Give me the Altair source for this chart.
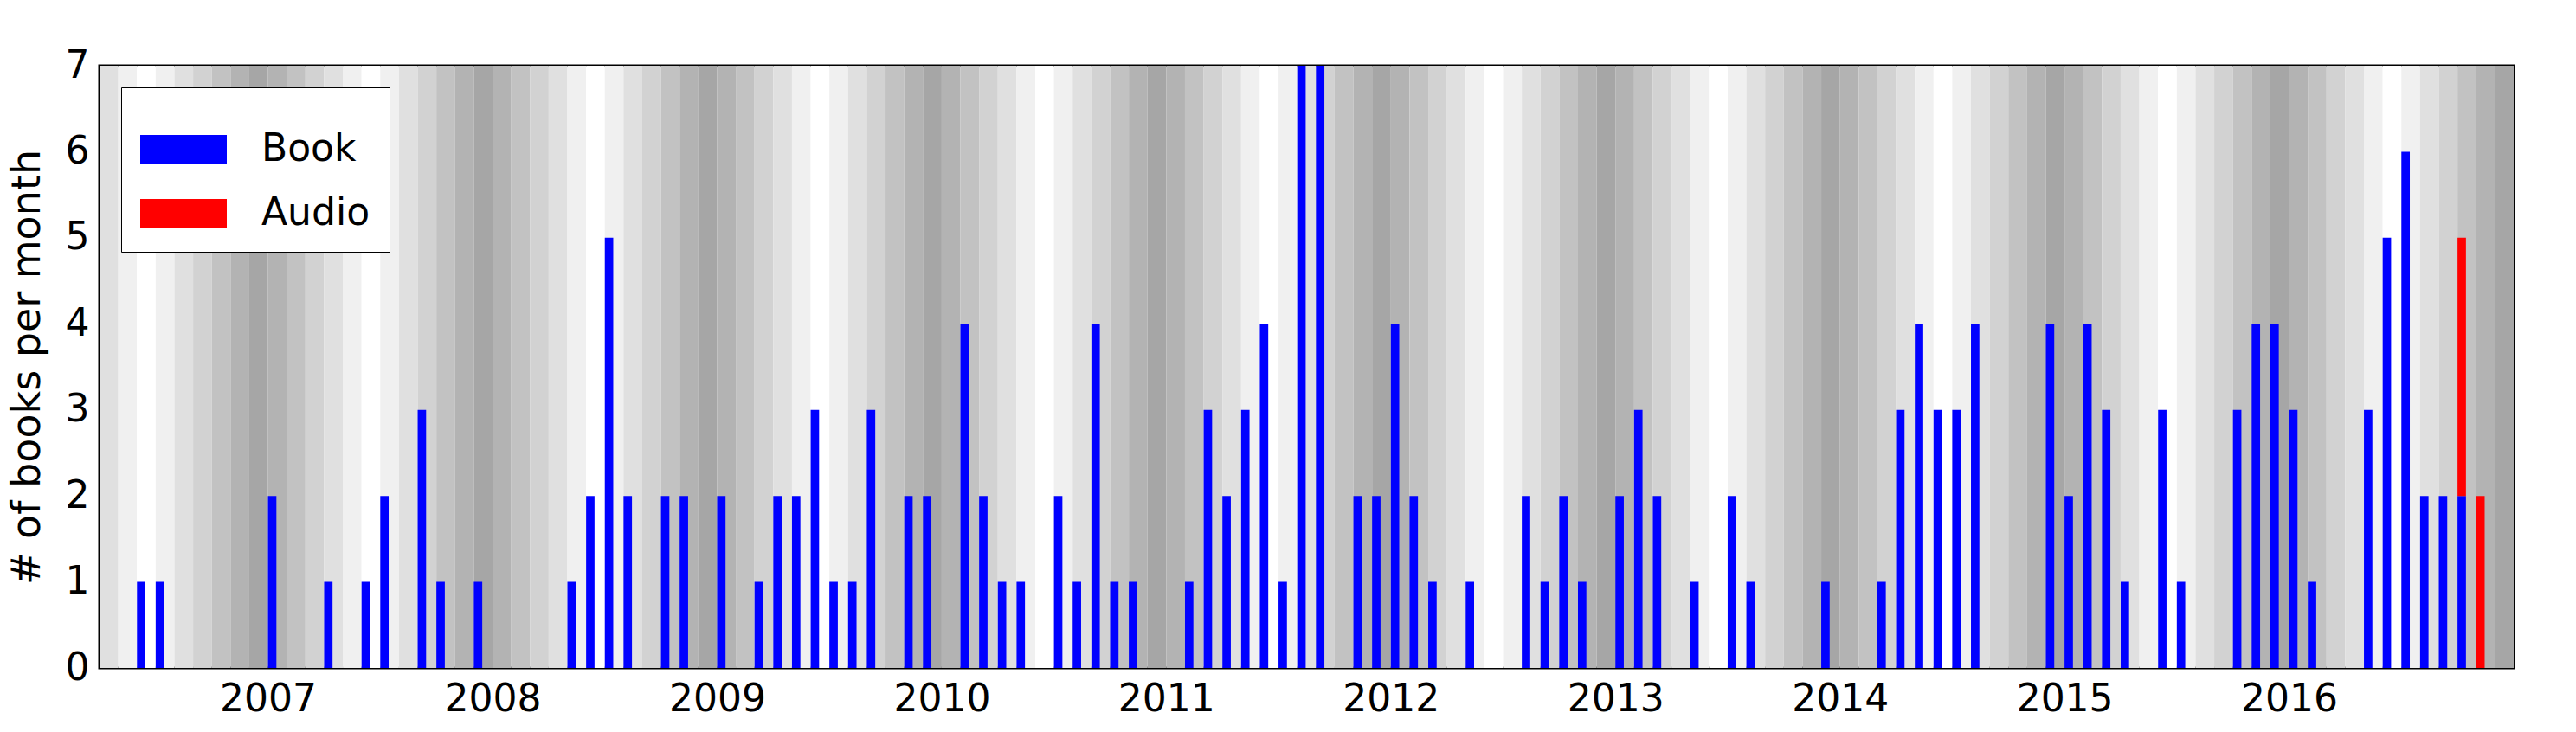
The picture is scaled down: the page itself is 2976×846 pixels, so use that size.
import altair as alt
import pandas as pd

# monthly counts, April 2006 .. December 2016 (129 months)
START_YEAR, START_MONTH, N_MONTHS = 2006, 4, 129

# (month index from Apr 2006) -> count
BOOK = {
    2: 1, 3: 1, 9: 2, 12: 1, 14: 1, 15: 2, 17: 3, 18: 1, 20: 1,
    25: 1, 26: 2, 27: 5, 28: 2, 30: 2, 31: 2, 33: 2, 35: 1, 36: 2, 37: 2, 38: 3,
    39: 1, 40: 1, 41: 3, 43: 2, 44: 2, 46: 4, 47: 2, 48: 1, 49: 1, 51: 2, 52: 1,
    53: 4, 54: 1, 55: 1, 58: 1, 59: 3, 60: 2, 61: 3, 62: 4, 63: 1, 64: 7, 65: 7,
    67: 2, 68: 2, 69: 4, 70: 2, 71: 1, 73: 1, 76: 2, 77: 1, 78: 2, 79: 1,
    81: 2, 82: 3, 83: 2, 85: 1, 87: 2, 88: 1, 92: 1, 95: 1, 96: 3, 97: 4,
    98: 3, 99: 3, 100: 4, 104: 4, 105: 2, 106: 4, 107: 3, 108: 1, 110: 3,
    111: 1, 114: 3, 115: 4, 116: 4, 117: 3, 118: 1, 121: 3, 122: 5, 123: 6,
    124: 2, 125: 2, 126: 2,
}
AUDIO = {126: 3, 127: 2}

# background shade per calendar month (Jan..Dec): white in June, darkest in December
SHADE = ["#b3b3b3", "#c2c2c2", "#d2d2d2", "#e0e0e0", "#f0f0f0", "#ffffff",
         "#f0f0f0", "#e0e0e0", "#d2d2d2", "#c2c2c2", "#b3b3b3", "#a6a6a6"]

BAR_FRAC = 0.45  # bar width as fraction of a month

stripes, bars = [], []
for i in range(N_MONTHS):
    m0 = START_MONTH - 1 + i
    year, month = START_YEAR + m0 // 12, m0 % 12 + 1
    t = year + (month - 1) / 12
    stripes.append({"t": t, "t2": t + 1 / 12, "shade": SHADE[month - 1]})
    b, a = BOOK.get(i, 0), AUDIO.get(i, 0)
    if b:
        bars.append({"t": t, "t2": t + BAR_FRAC / 12, "y0": 0, "y1": b, "kind": "Book"})
    if a:
        bars.append({"t": t, "t2": t + BAR_FRAC / 12, "y0": b, "y1": b + a, "kind": "Audio"})

stripes = pd.DataFrame(stripes)
bars = pd.DataFrame(bars)

xscale = alt.Scale(domain=[2006.25, 2017.0], nice=False, zero=False)
yscale = alt.Scale(domain=[0, 7], nice=False)

bg = alt.Chart(stripes).mark_rect().encode(
    x=alt.X("t:Q", scale=xscale,
            axis=alt.Axis(values=list(range(2007, 2017)), format="d", title=None,
                          grid=False, domain=False, ticks=False, labelPadding=14)),
    x2="t2:Q",
    y=alt.value(0),
    y2=alt.value(696),
    color=alt.Color("shade:N", scale=None),
)

fg = alt.Chart(bars).mark_rect().encode(
    x=alt.X("t:Q", scale=xscale),
    x2="t2:Q",
    y=alt.Y("y0:Q", scale=yscale,
            axis=alt.Axis(values=list(range(8)), title="# of books per month",
                          grid=False, domain=False, ticks=False, labelPadding=12,
                          titlePadding=20)),
    y2="y1:Q",
    color=alt.Color(
        "kind:N",
        scale=alt.Scale(domain=["Book", "Audio"], range=["#0000ff", "#ff0000"]),
        legend=alt.Legend(
            title=None, orient="none", legendX=25, legendY=25,
            symbolType="M-1,-0.34L1,-0.34L1,0.34L-1,0.34Z", symbolSize=10000,
            symbolStrokeWidth=0, symbolOpacity=1,
            labelFontSize=44, labelOffset=40,
            fillColor="white", strokeColor="black", padding=22,
        ),
    ),
)

chart = (
    alt.layer(bg, fg)
    .properties(width=2789, height=696, background="white",
                padding={"left": 0, "top": 46, "right": 20, "bottom": 0})
    .configure_view(stroke="black", strokeWidth=3)
    .configure_axis(labelFont="DejaVu Sans", titleFont="DejaVu Sans",
                    labelFontSize=44, titleFontSize=46, titleFontWeight="normal",
                    labelColor="black", titleColor="black")
    .configure_legend(labelFont="DejaVu Sans", labelColor="black")
)

chart.save("out.html", embed_options={"renderer": "svg", "actions": False})
